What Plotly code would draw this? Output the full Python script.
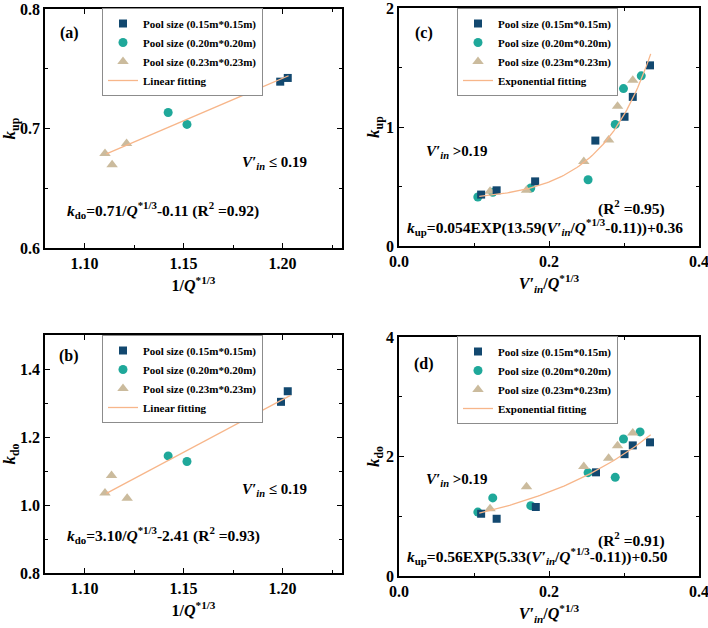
import numpy as np
import plotly.graph_objects as go

# ---------------- data ----------------
# Panel (a): k_up vs 1/Q*^(1/3)
a_sq_x = [1.1988, 1.2026]
a_sq_y = [0.7392, 0.7423]
a_ci_x = [1.1422, 1.1517]
a_ci_y = [0.7134, 0.7034]
a_tr_x = [1.1103, 1.1139, 1.1212]
a_tr_y = [0.6790, 0.6697, 0.6874]
a_fit_coef = [0.71, -0.11]          # k = 0.71/Q^(1/3) - 0.11
a_fit_range = [1.111, 1.203]

# Panel (b): k_do vs 1/Q*^(1/3)
b_sq_x = [1.1992, 1.2026]
b_sq_y = [1.3034, 1.3346]
b_ci_x = [1.1422, 1.1517]
b_ci_y = [1.1444, 1.1278]
b_tr_x = [1.1103, 1.1136, 1.1215]
b_tr_y = [1.0351, 1.0868, 1.0195]
b_fit_coef = [3.10, -2.41]
b_fit_range = [1.111, 1.204]

# Panel (c): k_up vs V'in/Q*^(1/3)
c_sq_x = [0.1095, 0.1302, 0.1815, 0.2618, 0.3007, 0.3117, 0.3347]
c_sq_y = [0.432, 0.468, 0.543, 0.886, 1.086, 1.253, 1.518]
c_ci_x = [0.1051, 0.1250, 0.1757, 0.2521, 0.2883, 0.2993, 0.3230]
c_ci_y = [0.412, 0.452, 0.487, 0.557, 1.022, 1.323, 1.430]
c_tr_x = [0.1214, 0.1700, 0.2464, 0.2795, 0.2914, 0.3117]
c_tr_y = [0.460, 0.468, 0.710, 0.891, 1.175, 1.393]
c_fit_coef = [0.042, 15.0, 0.11, 0.376]   # a*exp(b*(x-x0))+c
c_fit_range = [0.107, 0.3356]

# Panel (d): k_do vs V'in/Q*^(1/3)
d_sq_x = [0.1095, 0.1302, 0.1824, 0.2627, 0.3007, 0.3117, 0.3347]
d_sq_y = [1.042, 0.958, 1.155, 1.735, 2.039, 2.186, 2.237]
d_ci_x = [0.1051, 0.1250, 0.1757, 0.2521, 0.2883, 0.2993, 0.3214]
d_ci_y = [1.070, 1.307, 1.177, 1.730, 1.651, 2.293, 2.411]
d_tr_x = [0.1214, 0.1700, 0.2464, 0.2795, 0.2914, 0.3117]
d_tr_y = [1.127, 1.493, 1.831, 1.972, 2.180, 2.394]
d_fit_coef = [0.56, 5.33, 0.11, 0.50]
d_fit_range = [0.107, 0.3356]

series_names = ["Pool size (0.15m*0.15m)", "Pool size (0.20m*0.20m)",
                "Pool size (0.23m*0.23m)"]

# ---------------- styling ----------------
W, H = 708, 628
FONT = "Liberation Serif, Times New Roman, serif"
C_SQ = "#12486f"
C_CI = "#1fa89a"
C_TR = "#cbbb9d"
C_FIT = "#f7b68a"


def px(x):
    return x / W


def py(y):
    return 1 - y / H


fig = go.Figure()

panels = [
    ("a", "x", "y", "legend", (a_sq_x, a_sq_y, a_ci_x, a_ci_y, a_tr_x, a_tr_y),
     ("lin", a_fit_coef, a_fit_range), "Linear fitting"),
    ("b", "x2", "y2", "legend2", (b_sq_x, b_sq_y, b_ci_x, b_ci_y, b_tr_x, b_tr_y),
     ("lin", b_fit_coef, b_fit_range), "Linear fitting"),
    ("c", "x3", "y3", "legend3", (c_sq_x, c_sq_y, c_ci_x, c_ci_y, c_tr_x, c_tr_y),
     ("exp", c_fit_coef, c_fit_range), "Exponential fitting"),
    ("d", "x4", "y4", "legend4", (d_sq_x, d_sq_y, d_ci_x, d_ci_y, d_tr_x, d_tr_y),
     ("exp", d_fit_coef, d_fit_range), "Exponential fitting"),
]

for key, xa, ya, lg, dat, fit, fitname in panels:
    sx, sy, cx, cy, tx, ty = dat
    fig.add_trace(go.Scatter(x=cx, y=cy, mode="markers", name=series_names[1],
                             marker=dict(symbol="circle", size=9, color=C_CI),
                             xaxis=xa, yaxis=ya, legend=lg, legendrank=2))
    fig.add_trace(go.Scatter(x=tx, y=ty, mode="markers", name=series_names[2],
                             marker=dict(symbol="triangle-up", size=10, color=C_TR),
                             xaxis=xa, yaxis=ya, legend=lg, legendrank=3))
    fig.add_trace(go.Scatter(x=sx, y=sy, mode="markers", name=series_names[0],
                             marker=dict(symbol="square", size=8, color=C_SQ),
                             xaxis=xa, yaxis=ya, legend=lg, legendrank=1))
    kind, coef, rng = fit
    fx = np.linspace(rng[0], rng[1], 80)
    if kind == "lin":
        fy = coef[0] * fx + coef[1]
    else:
        fy = coef[0] * np.exp(coef[1] * (fx - coef[2])) + coef[3]
    fig.add_trace(go.Scatter(x=fx, y=fy, mode="lines", name=fitname,
                             line=dict(color=C_FIT, width=1.3),
                             xaxis=xa, yaxis=ya, legend=lg, legendrank=4))

tickfont = dict(family=FONT, size=16, color="black", weight="bold")
xtitlefont = dict(family=FONT, size=16, color="black", weight="bold")
ytitlefont = dict(family=FONT, size=17, color="black", weight="bold")


def xax(dom, anchor, rng, tick0, dtick, mdtick, fmt, title):
    return dict(domain=[px(dom[0]), px(dom[1])], anchor=anchor, range=rng,
                automargin=False, ticklabeloverflow="allow",
                tick0=tick0, dtick=dtick, tickformat=fmt,
                showline=True, linecolor="black", linewidth=1.6, mirror="allticks",
                ticks="inside", ticklen=5, tickwidth=1.4, tickcolor="black",
                minor=dict(ticks="inside", ticklen=3, tickwidth=1.2, dtick=mdtick,
                           tickcolor="black", tick0=tick0),
                showgrid=False, zeroline=False, tickfont=tickfont,
                title=dict(text=title, font=xtitlefont, standoff=9))


def yax(dom, anchor, rng, dtick, mdtick, fmt, title):
    return dict(domain=[py(dom[1]), py(dom[0])], anchor=anchor, range=rng,
                automargin=False, ticklabeloverflow="allow",
                tick0=0, dtick=dtick, tickformat=fmt,
                showline=True, linecolor="black", linewidth=1.6, mirror="allticks",
                ticks="inside", ticklen=5, tickwidth=1.4, tickcolor="black",
                minor=dict(ticks="inside", ticklen=3, tickwidth=1.2, dtick=mdtick,
                           tickcolor="black"),
                showgrid=False, zeroline=False, tickfont=tickfont,
                title=dict(text=title, font=ytitlefont, standoff=1))


XT_Q = "1/<i>Q</i><sup>*1/3</sup>"
XT_V = "<i>V′</i><sub><i>in</i></sub>/<i>Q</i><sup>*1/3</sup>"
YT_UP = "<i>k</i><sub>up</sub>"
YT_DO = "<i>k</i><sub>do</sub>"

fig.update_layout(
    template="none",
    xaxis=xax((45, 342), "y", [1.08, 1.23], 1.10, 0.05, 0.025, ".2f", XT_Q),
    yaxis=yax((9, 248), "x", [0.6, 0.8], 0.1, 0.05, ".1f", YT_UP),
    xaxis2=xax((45, 342), "y2", [1.08, 1.23], 1.10, 0.05, 0.025, ".2f", XT_Q),
    yaxis2=yax((335, 573), "x2", [0.8, 1.5], 0.2, 0.1, ".1f", YT_DO),
    xaxis3=xax((399, 699), "y3", [0, 0.4], 0, 0.2, 0.1, ".1f", XT_V),
    yaxis3=yax((8, 246), "x3", [0, 2], 1, 0.5, "d", YT_UP),
    xaxis4=xax((399, 699), "y4", [0, 0.4], 0, 0.2, 0.1, ".1f", XT_V),
    yaxis4=yax((337, 576), "x4", [0, 4], 2, 1, "d", YT_DO),
)

legfont = dict(family=FONT, size=11, color="black", weight="bold")


def leg(x0, ymid):
    return dict(x=px(x0), y=py(ymid), xanchor="left", yanchor="middle",
                bgcolor="white", bordercolor="#8c8c8c", borderwidth=1,
                font=legfont, itemwidth=30, tracegroupgap=0)


fig.update_layout(
    legend=leg(102, 52),
    legend2=leg(102, 379),
    legend3=leg(457, 52),
    legend4=leg(457, 380),
)

anns = []


def ann(text, x, y, size=15):
    anns.append(dict(text=text, x=px(x), y=py(y), xref="paper", yref="paper",
                     showarrow=False, xanchor="center", yanchor="middle",
                     font=dict(family=FONT, size=size, color="black", weight="bold")))


V_LE = "<i>V′</i><sub><i>in</i></sub> ≤ 0.19"
V_GT = "<i>V′</i><sub><i>in</i></sub> >0.19"
EQ = 15.5

ann("(a)", 69, 33, 16)
ann(V_LE, 274, 163)
ann("<i>k</i><sub>do</sub>=0.71/<i>Q</i><sup>*1/3</sup>-0.11 (R<sup>2</sup> =0.92)", 163, 210, EQ)

ann("(b)", 69, 356, 16)
ann(V_LE, 274, 490)
ann("<i>k</i><sub>do</sub>=3.10/<i>Q</i><sup>*1/3</sup>-2.41 (R<sup>2</sup> =0.93)", 163, 535, EQ)

ann("(c)", 424, 33, 16)
ann(V_GT, 457, 152)
ann("(R<sup>2</sup> =0.95)", 631, 208, EQ)
ann("<i>k</i><sub>up</sub>=0.054EXP(13.59(<i>V′</i><sub><i>in</i></sub>/<i>Q</i><sup>*1/3</sup>-0.11))+0.36", 545, 227, EQ)

ann("(d)", 424, 364, 16)
ann(V_GT, 457, 480)
ann("(R<sup>2</sup> =0.91)", 631, 539, EQ)
ann("<i>k</i><sub>up</sub>=0.56EXP(5.33(<i>V′</i><sub><i>in</i></sub>/<i>Q</i><sup>*1/3</sup>-0.11))+0.50", 537, 556, EQ)

fig.update_layout(
    annotations=anns,
    width=W, height=H,
    margin=dict(l=0, r=0, t=0, b=0, autoexpand=False),
    paper_bgcolor="white", plot_bgcolor="white",
    font=dict(family=FONT, color="black"),
    showlegend=True,
)

fig.write_html("out.html",
               config={"displayModeBar": False},
               post_script="document.body.style.margin='0';"
                           "document.body.style.overflow='hidden';")
